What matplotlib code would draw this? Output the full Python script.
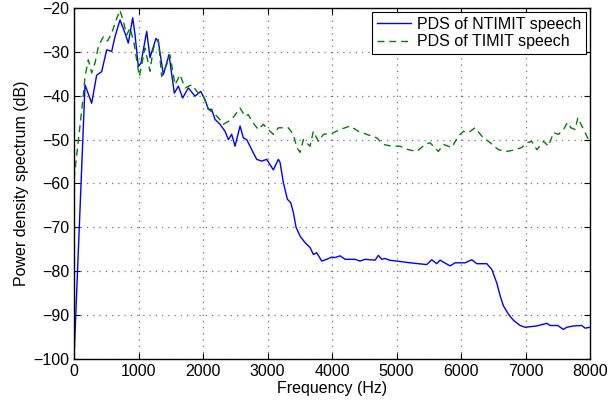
import matplotlib.pyplot as plt
import numpy as np

plt.rcParams['font.family'] = ['Liberation Sans', 'DejaVu Sans']

# NTIMIT speech PDS
f_ntimit = [0, 171, 274, 351, 429, 507, 584, 636, 713, 791, 842, 910, 946, 997, 1039,
            1127, 1178, 1271, 1307, 1385, 1473, 1555, 1617, 1685, 1772, 1876, 1964,
            2031, 2083, 2134, 2186, 2264, 2341, 2393, 2444, 2496, 2574, 2625, 2677,
            2755, 2832, 2910, 2987, 3090, 3168, 3194, 3245, 3307, 3360, 3400, 3442,
            3504, 3581, 3659, 3710, 3762, 3840, 3917, 3995, 4047, 4124, 4202, 4357,
            4434, 4512, 4667, 4718, 4770, 4822, 4888, 5003, 5209, 5468, 5545, 5623,
            5674, 5829, 5907, 6062, 6166, 6243, 6398, 6476, 6553, 6605, 6656, 6733,
            6811, 6915, 6992, 7174, 7251, 7329, 7380, 7500, 7586, 7638, 7741, 7871,
            7922, 8000]
p_ntimit = [-100, -37.5, -41.7, -35.3, -34.5, -29.5, -29.9, -26.5, -22.7, -25.7, -28.0,
            -22.2, -26.1, -33.3, -32.5, -25.3, -31.3, -26.9, -27.6, -35.2, -30.6, -39.4,
            -37.8, -40.5, -38.2, -40.1, -39.0, -40.9, -43.1, -43.1, -45.4, -46.5, -48.1,
            -50.0, -48.8, -51.5, -46.9, -49.6, -50.0, -52.3, -54.5, -54.9, -54.5, -56.9,
            -54.5, -55.2, -59.8, -63.6, -64.4, -66.6, -70.0, -72.0, -73.5, -74.6, -76.2,
            -75.8, -77.7, -77.3, -76.8, -76.9, -76.5, -77.3, -77.3, -77.7, -77.3, -77.5,
            -76.4, -77.3, -77.1, -77.5, -77.7, -78.1, -78.5, -77.4, -78.3, -77.5, -78.8,
            -78.1, -78.1, -77.4, -78.3, -78.3, -79.6, -82.7, -85.6, -87.9, -89.8, -91.2,
            -92.4, -92.8, -92.5, -92.2, -91.9, -92.4, -92.4, -93.3, -92.8, -92.5, -92.4,
            -93.0, -92.8]

# TIMIT speech PDS
f_timit = [0, 135, 171, 222, 274, 326, 377, 455, 520, 584, 662, 713, 764, 817, 870,
           930, 1013, 1101, 1178, 1230, 1307, 1359, 1437, 1488, 1566, 1643, 1721, 1824,
           1928, 2005, 2083, 2160, 2237, 2315, 2444, 2574, 2651, 2703, 2755, 2857,
           2935, 3012, 3090, 3168, 3194, 3322, 3400, 3453, 3504, 3555, 3659, 3710,
           3788, 3866, 3995, 4124, 4279, 4408, 4537, 4693, 4796, 4926, 5054, 5184,
           5313, 5442, 5519, 5648, 5726, 5855, 5958, 6036, 6114, 6217, 6321, 6450,
           6579, 6710, 6837, 6940, 7018, 7096, 7174, 7277, 7355, 7432, 7510, 7587,
           7649, 7702, 7768, 7810, 7871, 7922, 7974, 8000]
p_timit = [-59, -41.3, -35.6, -31.8, -34.8, -32.5, -28.8, -26.5, -27.5, -25.7, -22.4,
           -20.5, -23.0, -26.1, -24.5, -28.0, -35.6, -29.1, -34.4, -29.1, -27.2, -35.6,
           -32.9, -30.7, -37.5, -35.2, -38.2, -37.5, -39.4, -40.1, -43.1, -43.9, -45.0,
           -46.5, -45.4, -42.8, -44.7, -44.3, -45.8, -47.7, -46.5, -47.7, -48.8, -47.3,
           -47.3, -47.3, -48.8, -51.8, -52.9, -50.0, -51.5, -48.1, -50.4, -48.8, -48.6,
           -47.7, -46.9, -48.1, -48.8, -49.6, -51.1, -51.5, -51.5, -52.3, -52.7, -51.1,
           -50.7, -52.7, -51.1, -51.8, -49.2, -48.1, -48.4, -47.3, -49.2, -50.7, -52.3,
           -52.7, -52.3, -51.8, -50.7, -50.4, -52.3, -50.4, -51.5, -48.4, -48.8, -47.7,
           -46.1, -47.3, -47.7, -45.0, -46.9, -48.4, -50.0, -50.0]

fig = plt.figure(figsize=(6.09, 4.05), dpi=100)
ax = fig.add_axes([0.1215, 0.114, 0.8475, 0.866])

ax.plot(f_ntimit, p_ntimit, color='blue', lw=1.0, label='PDS of NTIMIT speech')
ax.plot(f_timit, p_timit, color=(0, 0.5, 0), lw=1.0, linestyle='--', dashes=(5, 3.5),
        label='PDS of TIMIT speech')

ax.set_xlim(0, 8000)
ax.set_ylim(-100, -20)
ax.set_xticks(np.arange(0, 8001, 1000))
ax.set_yticks(np.arange(-100, -19, 10))
ax.grid(True, linestyle=(0, (1, 4)), color='0.45', linewidth=0.9)
ax.tick_params(direction='in', top=True, right=True, labelsize=11.5, length=4)
for s in ax.spines.values():
    s.set_linewidth(1.0)

ax.set_xlabel('Frequency (Hz)', fontsize=11.5, labelpad=2)
ax.set_ylabel('Power density spectrum (dB)', fontsize=11.5, labelpad=3)

leg = ax.legend(loc='upper right', fontsize=11.5, fancybox=False, framealpha=1,
                edgecolor='black', borderaxespad=0.25, handlelength=2.1,
                handletextpad=0.4, borderpad=0.3, labelspacing=0.15)
leg.get_frame().set_linewidth(0.8)

plt.savefig('out.png', dpi=100)
